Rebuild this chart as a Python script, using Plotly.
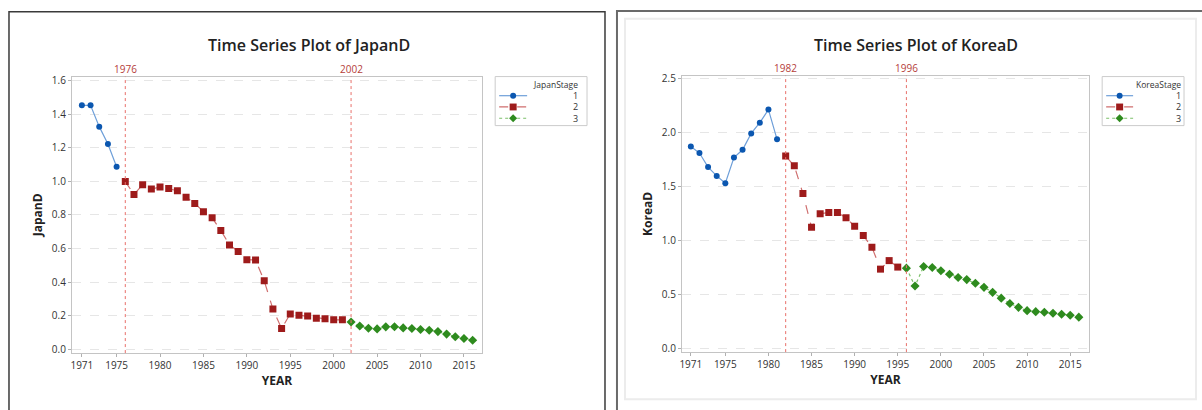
import plotly.graph_objects as go

# ---- data -----------------------------------------------------------------
years = list(range(1971, 2017))

japan_d = [
    1.452, 1.452, 1.325, 1.222, 1.086, 0.998, 0.921, 0.979, 0.954, 0.965,
    0.956, 0.944, 0.905, 0.868, 0.819, 0.782, 0.707, 0.621, 0.582, 0.533,
    0.531, 0.407, 0.239, 0.123, 0.210, 0.202, 0.197, 0.185, 0.181, 0.175,
    0.175, 0.162, 0.138, 0.125, 0.121, 0.133, 0.134, 0.127, 0.123, 0.117,
    0.113, 0.105, 0.090, 0.074, 0.064, 0.053,
]
japan_breaks = [1976, 2002]

korea_d = [
    1.870, 1.809, 1.679, 1.597, 1.530, 1.767, 1.839, 1.991, 2.091, 2.212,
    1.936, 1.781, 1.691, 1.433, 1.121, 1.247, 1.258, 1.258, 1.209, 1.130,
    1.045, 0.936, 0.733, 0.812, 0.752, 0.742, 0.576, 0.758, 0.748, 0.718,
    0.685, 0.655, 0.636, 0.602, 0.564, 0.518, 0.464, 0.415, 0.379, 0.348,
    0.339, 0.333, 0.324, 0.315, 0.306, 0.288,
]
korea_breaks = [1982, 1996]

stage_labels = ["1", "2", "3"]
x_tickvals = [1971, 1975, 1980, 1985, 1990, 1995, 2000, 2005, 2010, 2015]
japan_yticks = [0.0, 0.2, 0.4, 0.6, 0.8, 1.0, 1.2, 1.4, 1.6]
korea_yticks = [0.0, 0.5, 1.0, 1.5, 2.0, 2.5]

# ---- styling --------------------------------------------------------------
W, H = 1202, 410
FONT = "Open Sans"
stage_style = [
    dict(marker=dict(symbol="circle", size=6, color="#0b57b0"),
         line=dict(color="#6e9fd9", width=1.2, dash="solid")),
    dict(marker=dict(symbol="square", size=7, color="#9e1b1b"),
         line=dict(color="#cf6e6e", width=1.2, dash="dash")),
    dict(marker=dict(symbol="diamond", size=7, color="#2e8b1e"),
         line=dict(color="#7cc06a", width=1.2, dash="dot")),
]


def px_x(p):
    return p / W


def px_y(p):
    return 1 - p / H


def split_stages(values, breaks):
    """Split the series into the three stage groups at the break years."""
    groups = [([], []), ([], []), ([], [])]
    for yr, v in zip(years, values):
        g = sum(yr >= b for b in breaks)
        groups[g][0].append(yr)
        groups[g][1].append(v)
    return groups


fig = go.Figure()

panels = [
    dict(name="JapanD", stage="JapanStage", values=japan_d, breaks=japan_breaks,
         xa="x", ya="y",
         legend_box=(494, 73, 586, 123), swatch=(498, 526), label_x=578,
         rows=(92.5, 104, 115.5), title_y=81),
    dict(name="KoreaD", stage="KoreaStage", values=korea_d, breaks=korea_breaks,
         xa="x2", ya="y2",
         legend_box=(1102, 73, 1184, 123), swatch=(1106, 1133), label_x=1182,
         rows=(92.5, 104, 115.5), title_y=81),
]

for p in panels:
    for i, (xs, ys) in enumerate(split_stages(p["values"], p["breaks"])):
        fig.add_trace(go.Scatter(
            x=xs, y=ys, mode="lines+markers",
            name=p["stage"] + " " + stage_labels[i],
            marker=stage_style[i]["marker"], line=stage_style[i]["line"],
            xaxis=p["xa"], yaxis=p["ya"], showlegend=False,
        ))
    for b in p["breaks"]:
        fig.add_shape(type="line", xref=p["xa"], yref=p["ya"] + " domain",
                      x0=b, x1=b, y0=0, y1=1,
                      line=dict(color="#e8706a", width=1, dash="dot"))
        fig.add_annotation(x=b, y=1, xref=p["xa"], yref=p["ya"] + " domain",
                           text=str(b), showarrow=False, yanchor="bottom",
                           yshift=-1, font=dict(family=FONT, size=10, color="#b5403a"))

    # group legend, drawn as a compact key box
    bx0, by0, bx1, by1 = p["legend_box"]
    fig.add_shape(type="rect", xref="paper", yref="paper",
                  x0=px_x(bx0), x1=px_x(bx1), y0=px_y(by1), y1=px_y(by0),
                  line=dict(color="#cccccc", width=1), fillcolor="white")
    fig.add_annotation(x=px_x(p["label_x"]), y=px_y(p["title_y"]),
                       xref="paper", yref="paper", text=p["stage"],
                       showarrow=False, xanchor="right", yanchor="middle",
                       borderpad=0,
                       font=dict(family=FONT, size=8.5, color="#333"))
    sx0, sx1 = p["swatch"]
    cx = (sx0 + sx1) / 2
    for i, ry in enumerate(p["rows"]):
        st = stage_style[i]
        fig.add_shape(type="line", xref="paper", yref="paper",
                      x0=px_x(sx0), x1=px_x(sx1), y0=px_y(ry), y1=px_y(ry),
                      line=dict(color=st["line"]["color"], width=1.2,
                                dash=st["line"]["dash"] if i else "solid"))
        col = st["marker"]["color"]
        if i == 0:
            fig.add_shape(type="circle", xref="paper", yref="paper",
                          x0=px_x(cx - 3), x1=px_x(cx + 3),
                          y0=px_y(ry + 3), y1=px_y(ry - 3),
                          line=dict(width=0), fillcolor=col)
        elif i == 1:
            fig.add_shape(type="rect", xref="paper", yref="paper",
                          x0=px_x(cx - 3.5), x1=px_x(cx + 3.5),
                          y0=px_y(ry + 3.5), y1=px_y(ry - 3.5),
                          line=dict(width=0), fillcolor=col)
        else:
            path = "M {} {} L {} {} L {} {} L {} {} Z".format(
                px_x(cx), px_y(ry - 4), px_x(cx + 4), px_y(ry),
                px_x(cx), px_y(ry + 4), px_x(cx - 4), px_y(ry))
            fig.add_shape(type="path", xref="paper", yref="paper", path=path,
                          line=dict(width=0), fillcolor=col)
        fig.add_annotation(x=px_x(p["label_x"]), y=px_y(ry),
                           xref="paper", yref="paper", text=stage_labels[i],
                           showarrow=False, xanchor="right", yanchor="middle",
                           borderpad=0,
                           font=dict(family=FONT, size=9, color="#333"))

axis_common = dict(
    showline=True, linecolor="#c4c4c4", linewidth=1, mirror=True,
    ticks="outside", ticklen=3, tickcolor="#b0b0b0",
    tickfont=dict(family=FONT, size=10, color="#333333"),
    zeroline=False,
)

fig.update_layout(
    width=W, height=H,
    margin=dict(l=0, r=0, t=0, b=0),
    paper_bgcolor="white", plot_bgcolor="white",
    showlegend=False,
    xaxis=dict(domain=[px_x(70), px_x(481)], range=[1969.85, 2017.1],
               tickvals=x_tickvals, showgrid=False, anchor="y",
               title=dict(text="<b>YEAR</b>", standoff=2,
                          font=dict(family=FONT, size=12, color="#222")),
               **axis_common),
    yaxis=dict(domain=[px_y(355), px_y(73)], range=[-0.023, 1.623],
               tickvals=japan_yticks, tickformat=".1f", anchor="x",
               showgrid=True, gridcolor="#e6e6e6", griddash="dash",
               title=dict(text="<b>JapanD</b>", standoff=6,
                          font=dict(family=FONT, size=12, color="#222")),
               **axis_common),
    xaxis2=dict(domain=[px_x(681), px_x(1089)], range=[1969.96, 2017.2],
                tickvals=x_tickvals, showgrid=False, anchor="y2",
                title=dict(text="<b>YEAR</b>", standoff=2,
                           font=dict(family=FONT, size=12, color="#222")),
                **axis_common),
    yaxis2=dict(domain=[px_y(354), px_y(72)], range=[-0.036, 2.527],
                tickvals=korea_yticks, tickformat=".1f", anchor="x2",
                showgrid=True, gridcolor="#e6e6e6", griddash="dash",
                title=dict(text="<b>KoreaD</b>", standoff=6,
                           font=dict(family=FONT, size=12, color="#222")),
                **axis_common),
)

# chart titles
for text, cx in [("Time Series Plot of JapanD", 308), ("Time Series Plot of KoreaD", 916)]:
    fig.add_annotation(x=px_x(cx), y=px_y(41), xref="paper", yref="paper",
                       text=text, showarrow=False, xanchor="center", yanchor="middle",
                       font=dict(family=FONT, size=16, color="#222", weight=600))

# panel frames
fig.add_shape(type="rect", xref="paper", yref="paper",
              x0=px_x(7), x1=px_x(604), y0=px_y(420), y1=px_y(7),
              line=dict(color="#3a3a3a", width=1.5))
fig.add_shape(type="rect", xref="paper", yref="paper",
              x0=px_x(616), x1=px_x(1215), y0=px_y(420), y1=px_y(6),
              line=dict(color="#6a6a6a", width=2))
fig.add_shape(type="rect", xref="paper", yref="paper",
              x0=px_x(624), x1=px_x(1196), y0=px_y(402), y1=px_y(14),
              line=dict(color="#ececec", width=2))

fig.write_html("out.html")
